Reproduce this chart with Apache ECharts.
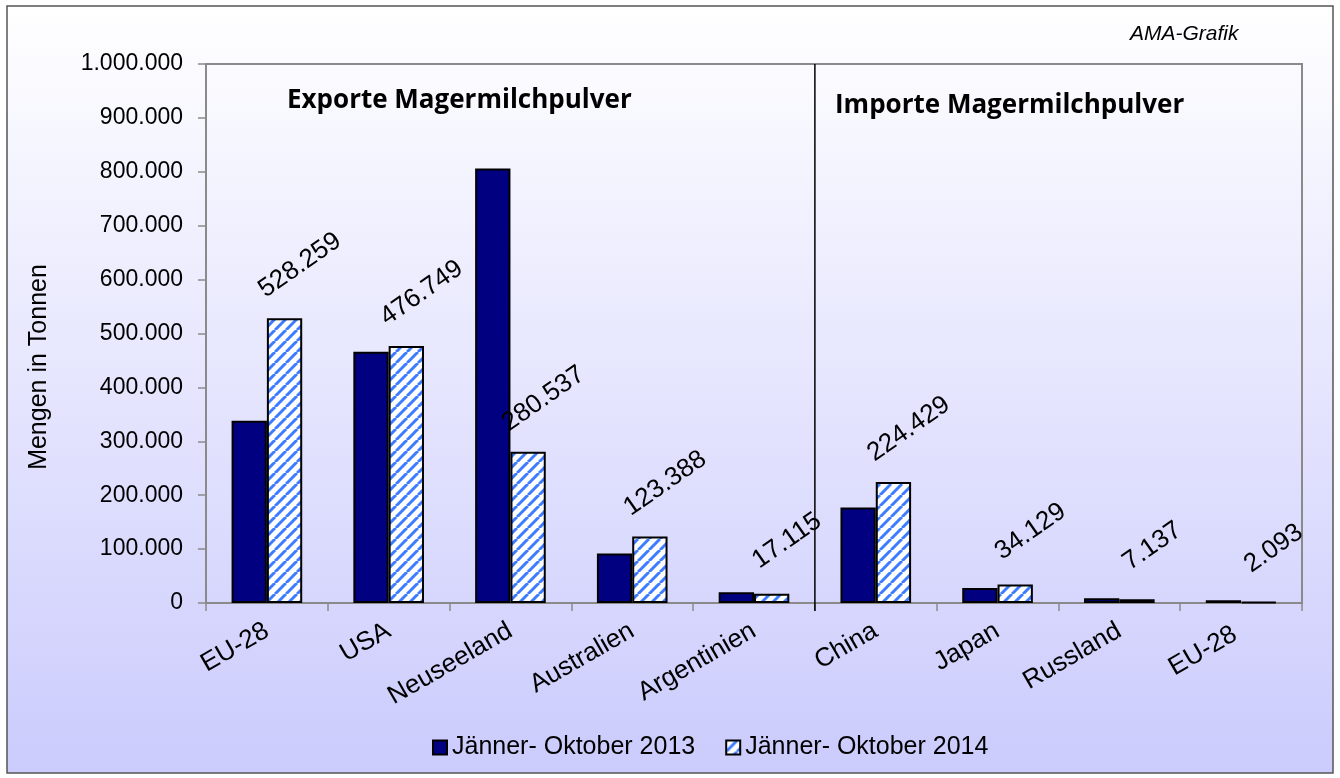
<!DOCTYPE html>
<html>
<head>
<meta charset="utf-8">
<script src="https://cdn.jsdelivr.net/npm/echarts@6/dist/echarts.min.js"></script>
<style>html,body{margin:0;padding:0;background:#fff}#c{width:1340px;height:778px}</style>
</head>
<body>
<div id="c"></div>
<script>
const categories = ['EU-28', 'USA', 'Neuseeland', 'Australien', 'Argentinien', 'China', 'Japan', 'Russland', 'EU-28 '];
const values2013 = [338000, 466000, 806000, 92000, 20000, 177000, 28000, 9000, 5000];
const values2014 = [528259, 476749, 280537, 123388, 17115, 224429, 34129, 7137, 2093];
const seriesNames = ['Jänner- Oktober 2013', 'Jänner- Oktober 2014'];
const yTicks = { min: 0, max: 1000000, interval: 100000 };
const sectionTitles = ['Exporte Magermilchpulver', 'Importe Magermilchpulver'];

function fmt(v) {
  return String(Math.round(v)).replace(/\B(?=(\d{3})+(?!\d))/g, '.');
}

// hatch pattern
const tile = document.createElement('canvas');
tile.width = 11; tile.height = 11;
const tc = tile.getContext('2d');
tc.fillStyle = '#ffffff';
tc.fillRect(0, 0, 11, 11);
tc.strokeStyle = '#3d7bff';
tc.lineWidth = 3;
for (const k of [-11, 0, 11]) {
  tc.beginPath(); tc.moveTo(k, 11); tc.lineTo(k + 11, 0); tc.stroke();
}

const chart = echarts.init(document.getElementById('c'), null, { renderer: 'canvas' });
const font = 'Arial, "Liberation Sans", sans-serif';

const option = {
  backgroundColor: '#ffffff',
  animation: false,
  textStyle: { fontFamily: font },
  grid: { left: 206, right: 38, top: 64, bottom: 175, show: true, borderColor: '#8a8a8a', borderWidth: 2, backgroundColor: 'transparent' },
  legend: {
    bottom: 13, left: 427,
    itemWidth: 14, itemHeight: 14, itemGap: 30,
    icon: 'rect',
    textStyle: { fontSize: 25, color: '#000', fontFamily: font },
    data: seriesNames
  },
  xAxis: {
    type: 'category',
    data: categories,
    axisLine: { lineStyle: { color: '#8a8a8a', width: 2 } },
    axisTick: { show: true, length: 8, lineStyle: { color: '#8a8a8a', width: 1.5 } },
    axisLabel: { rotate: 30, fontSize: 26, color: '#000', margin: 26, fontFamily: font, interval: 0 }
  },
  yAxis: {
    type: 'value',
    min: yTicks.min, max: yTicks.max, interval: yTicks.interval,
    splitLine: { show: false },
    axisLine: { show: true, lineStyle: { color: '#8a8a8a', width: 2 } },
    axisTick: { show: true, length: 8, lineStyle: { color: '#8a8a8a', width: 1.5 } },
    axisLabel: { fontSize: 23, color: '#000', margin: 23, fontFamily: font, formatter: fmt }
  },
  series: [
    {
      name: seriesNames[0], type: 'bar', data: values2013,
      barGap: '0%', barCategoryGap: '42%',
      itemStyle: { color: '#000080', borderColor: '#000', borderWidth: 2 }
    },
    {
      name: seriesNames[1], type: 'bar', data: values2014,
      barGap: '0%', barCategoryGap: '42%',
      itemStyle: { color: { image: tile, repeat: 'repeat' }, borderColor: '#000', borderWidth: 2 },
      label: {
        show: true, position: [33, -53], rotate: 35, align: 'center', verticalAlign: 'middle',
        fontSize: 26, color: '#000', fontFamily: font,
        formatter: p => fmt(p.value)
      }
    }
  ]
};
chart.setOption(option);

// section divider between export and import blocks
const xa = chart.convertToPixel({ xAxisIndex: 0 }, categories[4]);
const xb = chart.convertToPixel({ xAxisIndex: 0 }, categories[5]);
const xd = (xa + xb) / 2;
const yTop = chart.convertToPixel({ yAxisIndex: 0 }, yTicks.max);
const yBot = chart.convertToPixel({ yAxisIndex: 0 }, yTicks.min);

chart.setOption({
  graphic: { elements: [
    { type: 'rect', z: -10, silent: true, shape: { x: 7, y: 6, width: 1326, height: 767 },
      style: { fill: new echarts.graphic.LinearGradient(0, 0, 0, 1, [{ offset: 0, color: '#ffffff' }, { offset: 1, color: '#cbcbfd' }]), stroke: '#555', lineWidth: 1.5 } },
    { type: 'line', z: 5, silent: true, shape: { x1: xd, y1: yTop, x2: xd, y2: yBot + 8 }, style: { stroke: '#000', lineWidth: 1.5 } },
    { type: 'text', z: 5, left: 1130, top: 24, style: { text: 'AMA-Grafik', font: 'italic 21px Arial, "Liberation Sans", sans-serif', fill: '#000' } },
    { type: 'text', z: 5, left: 287, top: 88, style: { text: sectionTitles[0], font: 'bold 26px "Open Sans", Lato, sans-serif', fill: '#000' } },
    { type: 'text', z: 5, left: 835, top: 93, style: { text: sectionTitles[1], font: 'bold 26px "Open Sans", Lato, sans-serif', fill: '#000' } },
    { type: 'text', z: 5, x: 27, y: 367, rotation: Math.PI / 2, style: { text: 'Mengen in Tonnen', font: '25px Arial, "Liberation Sans", sans-serif', fill: '#000', align: 'center', verticalAlign: 'top' } }
  ] }
});
</script>
</body>
</html>
